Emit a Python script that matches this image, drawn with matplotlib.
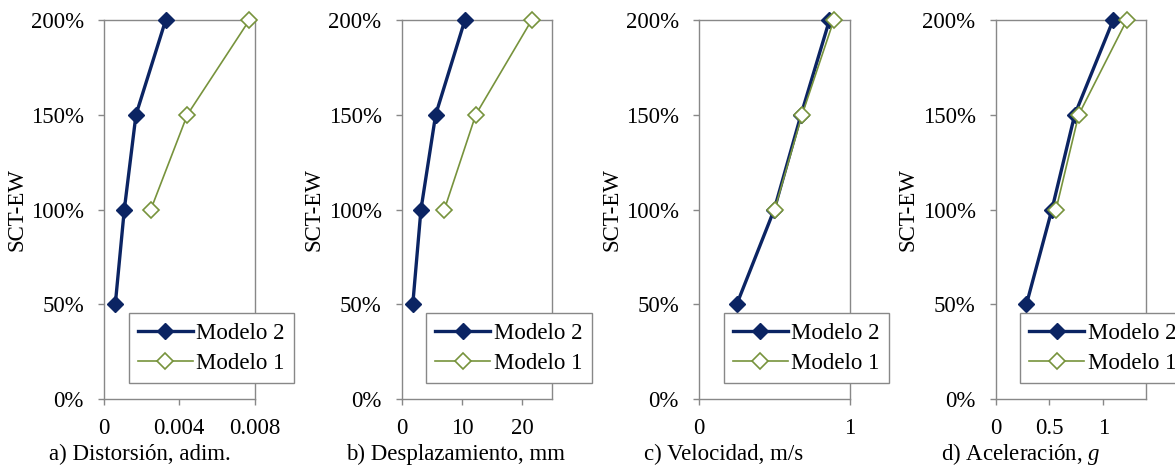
import matplotlib
matplotlib.use("Agg")
import matplotlib.pyplot as plt
from matplotlib.ticker import FuncFormatter

plt.rcParams['font.family'] = ['Liberation Serif', 'DejaVu Serif']
plt.rcParams['mathtext.fontset'] = 'custom'
plt.rcParams['mathtext.rm'] = 'Liberation Serif'
plt.rcParams['mathtext.it'] = 'Liberation Serif:italic'

# Data
levels_m2 = [50, 100, 150, 200]
levels_m1 = [100, 150, 200]

distorsion_m2 = [0.0006, 0.00108, 0.0017, 0.00328]
distorsion_m1 = [0.00249, 0.00443, 0.00773]

desplaz_m2 = [1.84, 3.2, 5.64, 10.5]
desplaz_m1 = [7.09, 12.3, 21.6]

velocidad_m2 = [0.251, 0.5, 0.678, 0.867]
velocidad_m1 = [0.503, 0.685, 0.896]

acel_m2 = [0.286, 0.523, 0.735, 1.093]
acel_m1 = [0.561, 0.772, 1.22]

xlabels = ["a) Distorsión, adim.", "b) Desplazamiento, mm",
           "c) Velocidad, m/s", "d) Aceleración, $g$"]
xticks_list = [[0, 0.004, 0.008], [0, 10, 20], [0, 1], [0, 0.5, 1]]
xticklabels_list = [["0", "0.004", "0.008"], ["0", "10", "20"], ["0", "1"], ["0", "0.5", "1"]]
xlims = [(0, 0.008), (0, 25), (0, 1), (0, 1.4)]
yticks = [0, 50, 100, 150, 200]

series_m2 = [distorsion_m2, desplaz_m2, velocidad_m2, acel_m2]
series_m1 = [distorsion_m1, desplaz_m1, velocidad_m1, acel_m1]

c_m2 = '#0B2463'
c_m1 = '#77933C'
gray = '#888888'
FS = 16.5

fig = plt.figure(figsize=(11.75, 4.68), dpi=100)
lefts = [104, 401.7, 699, 995.7]
W, H = 1175, 468
for i in range(4):
    ax = fig.add_axes([lefts[i] / W, (H - 399) / H, 150.5 / W, 379 / H])
    ax.plot(series_m2[i], levels_m2, color=c_m2, lw=2.4, marker='D', ms=8.5,
            mfc=c_m2, mec=c_m2, label='Modelo 2', zorder=3)
    ax.plot(series_m1[i], levels_m1, color=c_m1, lw=1.2, marker='D', ms=8.5,
            mfc='white', mec=c_m1, mew=1.2, label='Modelo 1', zorder=4)
    ax.set_xlim(*xlims[i])
    ax.set_ylim(0, 200)
    ax.set_xticks(xticks_list[i])
    ax.set_xticklabels(xticklabels_list[i])
    ax.set_yticks(yticks)
    ax.yaxis.set_major_formatter(FuncFormatter(lambda v, p: f"{int(v)}%"))
    for s in ax.spines.values():
        s.set_color(gray)
        s.set_linewidth(1.0)
    ax.tick_params(axis='both', direction='out', length=4.5, width=1.0,
                   color=gray, labelsize=FS, labelcolor='black')
    ax.tick_params(axis='y', pad=10)
    ax.tick_params(axis='x', pad=9)
    ax.set_ylabel('SCT-EW', fontsize=FS)
    ax.yaxis.set_label_coords(-0.51, 0.5)
    ax.text(-55 / 150, (399 - 454) / 379, xlabels[i], transform=ax.transAxes,
            ha='left', va='center', fontsize=FS)
    for l in ax.lines:
        l.set_clip_on(False)
    leg = ax.legend(loc='lower left', bbox_to_anchor=(0.163, 0.042),
                    borderaxespad=0, fontsize=FS, handlelength=2.4,
                    handletextpad=0.15, labelspacing=0.4, borderpad=0.4,
                    fancybox=False, framealpha=1, edgecolor=gray)
    leg.get_frame().set_linewidth(1.0)
    leg.set_zorder(10)

fig.savefig('out.png', dpi=100)
